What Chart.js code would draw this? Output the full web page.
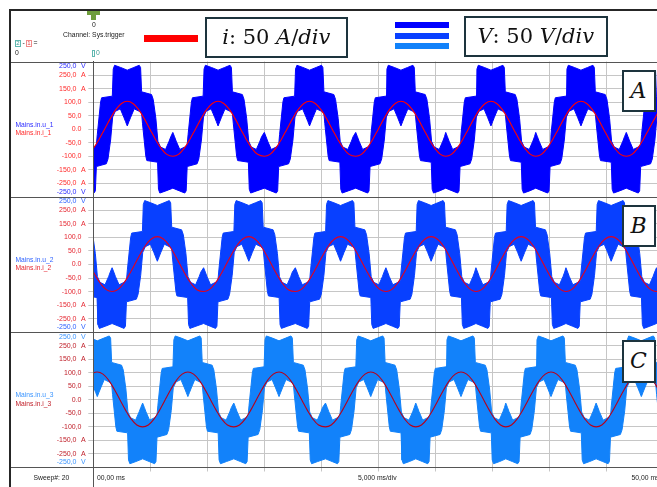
<!DOCTYPE html>
<html>
<head>
<meta charset="utf-8">
<script src="https://cdn.jsdelivr.net/npm/chart.js@4.4.0/dist/chart.umd.min.js"></script>
<style>
  html, body { margin: 0; padding: 0; background: #fff; overflow: hidden; }
  #wrap { position: relative; width: 657px; height: 487px; overflow: hidden; }
  #myChart { position: absolute; left: 0; top: 0; }
  .abs { position: absolute; white-space: nowrap; }
  .small { font: 6.8px "Liberation Sans", Arial, sans-serif; color: #222; line-height: 1; }
  .scalebox { position: absolute; box-sizing: border-box; border: 2px solid #1d343d; background: #fff;
              font-family: "DejaVu Serif", serif; font-size: 21px; color: #111; text-align: center; line-height: 36px; }
  .scalebox i { font-style: italic; }
  .phase { position: absolute; left: 621.5px; width: 34px; height: 42.5px; box-sizing: border-box;
           border: 2px solid #1d343d; background: #fff; font: italic 22px "DejaVu Serif", serif;
           color: #111; text-align: center; line-height: 38px; }
  .chbox { position: absolute; top: 40px; width: 6px; height: 7px; box-sizing: border-box; border: 1px solid;
           font: 6px "Liberation Sans", Arial, sans-serif; line-height: 5px; text-align: center; }
</style>
</head>
<body>
<div id="wrap">
  <canvas id="myChart" width="670" height="487"></canvas>

  <!-- header -->
  <div class="abs" style="left:87px;top:11px;width:13px;height:4px;background:#6f9e3c"></div>
  <div class="abs" style="left:91px;top:15px;width:5px;height:5px;background:#6f9e3c"></div>
  <div class="abs small" style="left:92px;top:22px">0</div>
  <div class="abs small" style="left:63px;top:32px">Channel: Sys.trigger</div>
  <div class="chbox" style="left:15px;border-color:#5fb8b0;color:#3a9a92">2</div>
  <div class="abs small" style="left:22.5px;top:40px">-</div>
  <div class="chbox" style="left:26px;border-color:#f08a8a;color:#e04040">1</div>
  <div class="abs small" style="left:33.5px;top:40px">=</div>
  <div class="abs small" style="left:15px;top:50px">0</div>
  <div class="abs" style="left:92px;top:50px;width:3px;height:7px;box-sizing:border-box;border:1px solid #5fb8b0"></div>
  <div class="abs small" style="left:96px;top:50px;color:#3a9a92">0</div>

  <div class="abs" style="left:144px;top:35px;width:54px;height:6.5px;background:#ff0000"></div>
  <div class="scalebox" style="left:205px;top:16.5px;width:142.5px;height:41px"><i>i</i>: 50 <i>A</i>/<i>div</i></div>

  <div class="abs" style="left:395px;top:22px;width:54px;height:6px;background:#0000ff"></div>
  <div class="abs" style="left:395px;top:32.5px;width:54px;height:6px;background:#0840ff"></div>
  <div class="abs" style="left:395px;top:43px;width:54px;height:6px;background:#1282fa"></div>
  <div class="scalebox" style="left:464px;top:16px;width:143.5px;height:41px"><i>V</i>: 50 <i>V</i>/<i>div</i></div>

  <div class="phase" style="top:69.5px">A</div>
  <div class="phase" style="top:204.8px">B</div>
  <div class="phase" style="top:340.2px">C</div>
</div>

<script>
// one period of the voltage envelope (ms from the top centre, volts)
var voltUpperOffsets = [-3.97, -3.82, -3.68, -3.36, -2.92, -2.71, -2.63, -2.34, -2.25, -1.31, -1.23, -1.11, -0.58, 0,
                        0.58, 1.05, 1.17, 1.26, 2.13, 2.28, 2.51, 2.69, 2.92, 3.36, 3.68, 3.82];
var voltUpperValues  = [-12, -28, -44, -75, -66, -58, -20, 100, 116, 122, 222, 236, 228, 218,
                        228, 236, 228, 138, 128, 110, 40, -45, -66, -75, -44, -28];
var voltLowerOffsets = [-3.97, -3.39, -2.92, -2.80, -2.71, -1.84, -1.69, -1.46, -1.28, -1.05, -0.61, -0.30, -0.15, 0,
                        0.15, 0.30, 0.61, 1.05, 1.26, 1.34, 1.63, 1.72, 2.66, 2.74, 2.86, 3.39];
var voltLowerValues  = [-218, -228, -236, -228, -138, -128, -110, -40, 45, 66, 75, 44, 28, 12,
                        28, 44, 75, 66, 58, 20, -100, -116, -122, -222, -236, -228];

// one period of the phase current (ms from the peak, amps)
var currOffsets = [-3.97, -3.47, -2.98, -2.48, -1.99, -1.49, -0.99, -0.50, 0, 0.50, 0.99, 1.49, 1.99, 2.48, 2.98, 3.47];
var currValues  = [-100, -93, -71, -38, 0, 39, 73, 95, 103, 95, 73, 39, 0, -38, -71, -93];

// positive peak times of each phase (ms)
var peaksA = [-4.97, 2.98, 10.95, 18.98, 27.0, 34.9, 42.8, 50.75];
var peaksB = [-2.33, 5.62, 13.65, 21.7, 29.65, 37.55, 45.45, 53.4];
var peaksC = [-7.6, 0.35, 8.3, 16.3, 24.35, 32.27, 40.17, 48.1];

var voltNames = ["Mains.in.u_1", "Mains.in.u_2", "Mains.in.u_3"];
var currNames = ["Mains.in.i_1", "Mains.in.i_2", "Mains.in.i_3"];

var yTickValues = [200, 150, 100, 50, 0, -50, -100, -150, -200];
var yTickLabels = ["250,0", "150,0", "100,0", "50,0", "0.0", "-50,0", "-100,0", "-150,0", "-250,0"];
var yTickUnits  = ["A", "A", "", "", "", "", "", "A", "A"];
var voltRangeLabels = ["250,0", "-250,0"];

var sweepLabel = "Sweep#: 20";
var timeLabels = ["00,00 ms", "5,000 ms/div", "50,00 ms"];

var panelAxes = ["yA", "yB", "yC"];
var panelPeaks = [peaksA, peaksB, peaksC];
var bandColors = ["#0000ff", "#0840ff", "#1282fa"];
var currColors = ["#ff0000", "#e5001c", "#b8001a"];
var voltLabelColors = ["#2b2bff", "#2f63ff", "#3b95ff"];
var currLabelColors = ["#ff2a2a", "#e52630", "#c0202a"];

function buildTrace(peaks, offsets, values) {
  var pts = [];
  peaks.forEach(function(c) {
    for (var i = 0; i < offsets.length; i++) {
      pts.push({x: +(c + offsets[i]).toFixed(3), y: values[i]});
    }
  });
  pts.sort(function(a, b) { return a.x - b.x; });
  return pts;
}

var datasets = [];
panelAxes.forEach(function(id, p) {
  datasets.push({
    data: buildTrace(panelPeaks[p], voltUpperOffsets, voltUpperValues),
    yAxisID: id, borderColor: bandColors[p], borderWidth: 1, pointRadius: 0, fill: false, order: 1
  });
  datasets.push({
    data: buildTrace(panelPeaks[p], voltLowerOffsets, voltLowerValues),
    yAxisID: id, borderColor: bandColors[p], backgroundColor: bandColors[p], borderWidth: 1,
    pointRadius: 0, fill: '-1', order: 1
  });
  datasets.push({
    data: buildTrace(panelPeaks[p], currOffsets, currValues),
    yAxisID: id, borderColor: currColors[p], borderWidth: 1.1, pointRadius: 0, fill: false,
    tension: 0.4, order: 0
  });
});

function yAxis(weight) {
  return {
    type: 'linear', position: 'left', stack: 'panels', stackWeight: 1, weight: weight,
    min: -250, max: 250,
    ticks: { display: false, stepSize: 50 },
    grid: {
      color: function(ctx) { return Math.abs(ctx.tick.value) === 250 ? 'rgba(0,0,0,0)' : '#c6c6c6'; },
      tickLength: 5
    },
    border: { display: true, color: '#3a3a3a', width: 1 },
    afterFit: function(s) { s.width = 93.3; }
  };
}

// labels, separators and frame like the scope screen
var scopeOverlay = {
  id: 'scopeOverlay',
  afterDraw: function(chart) {
    var c = chart.ctx;
    var area = chart.chartArea;
    c.save();
    c.textBaseline = 'middle';

    panelAxes.forEach(function(id, p) {
      var s = chart.scales[id];
      c.font = '7px "Liberation Sans", Arial, sans-serif';
      c.fillStyle = currLabelColors[p];
      for (var i = 0; i < yTickValues.length; i++) {
        var y = s.getPixelForValue(yTickValues[i]);
        c.textAlign = 'right';
        if (yTickUnits[i]) {
          c.fillText(yTickLabels[i], 76.5, y);
          c.textAlign = 'left';
          c.fillText(yTickUnits[i], 81, y);
        } else {
          c.fillText(yTickLabels[i], 81.5, y);
        }
      }
      c.fillStyle = voltLabelColors[p];
      c.textAlign = 'right';
      c.fillText(voltRangeLabels[0], 76.5, s.top + 4.5);
      c.fillText(voltRangeLabels[1], 76.5, s.bottom - 5);
      c.textAlign = 'left';
      c.fillText('V', 81, s.top + 4.5);
      c.fillText('V', 81, s.bottom - 5);

      var mid = s.getPixelForValue(0);
      c.font = '6.7px "Liberation Sans", Arial, sans-serif';
      c.fillStyle = voltLabelColors[p];
      c.fillText(voltNames[p], 15.5, mid - 4.5);
      c.fillStyle = currLabelColors[p];
      c.fillText(currNames[p], 15.5, mid + 4);

      // panel separators
      c.strokeStyle = '#555';
      c.lineWidth = 1;
      c.beginPath();
      c.moveTo(10, Math.round(s.top) + 0.5);
      c.lineTo(chart.width, Math.round(s.top) + 0.5);
      c.moveTo(10, Math.round(s.bottom) + 0.5);
      c.lineTo(chart.width, Math.round(s.bottom) + 0.5);
      c.stroke();
    });

    // axis line down through the footer
    c.beginPath();
    c.moveTo(Math.round(area.left) + 0.5, area.top);
    c.lineTo(Math.round(area.left) + 0.5, chart.height);
    c.stroke();

    // outer frame
    c.strokeStyle = '#262626';
    c.lineWidth = 2;
    c.beginPath();
    c.moveTo(10, chart.height);
    c.lineTo(10, 10);
    c.lineTo(chart.width, 10);
    c.stroke();

    // footer text
    c.font = '6.8px "Liberation Sans", Arial, sans-serif';
    c.fillStyle = '#222';
    c.textAlign = 'left';
    var fy = 478.5;
    c.fillText(sweepLabel, 33.5, fy);
    c.fillText(timeLabels[0], 97, fy);
    c.fillText(timeLabels[1], 358, fy);
    c.fillText(timeLabels[2], 631.5, fy);
    c.restore();
  }
};

var ctx = document.getElementById("myChart").getContext('2d');
var myChart = new Chart(ctx, {
  type: 'line',
  data: { datasets: datasets },
  options: {
    responsive: false,
    animation: false,
    events: [],
    layout: { padding: { left: 0, top: 61.5, right: 7, bottom: 0 } },
    plugins: { legend: { display: false }, tooltip: { enabled: false } },
    scales: {
      x: {
        type: 'linear', position: 'bottom', min: 0, max: 50,
        ticks: { display: false, stepSize: 5 },
        grid: { color: '#c6c6c6', tickLength: 4 },
        border: { display: true, color: '#3a3a3a', width: 1 },
        afterFit: function(s) { s.height = 19.5; }
      },
      yC: yAxis(1),
      yB: yAxis(2),
      yA: yAxis(3)
    }
  },
  plugins: [scopeOverlay]
});
</script>
</body>
</html>
